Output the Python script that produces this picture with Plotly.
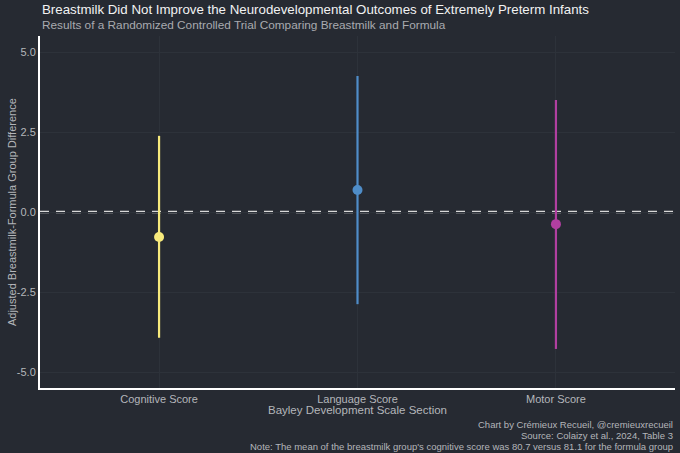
import plotly.graph_objects as go

# Data
sections = ["Cognitive Score", "Language Score", "Motor Score"]
estimates = [-0.78, 0.69, -0.38]
ci_lower = [-3.93, -2.88, -4.28]
ci_upper = [2.38, 4.25, 3.5]
colors = ["#f7ea7c", "#4f8dc8", "#b03fa0"]
y_ticks = [-5.0, -2.5, 0.0, 2.5, 5.0]
caption_lines = [
    "Chart by Crémieux Recueil, @cremieuxrecueil",
    "Source: Colaizy et al., 2024, Table 3",
    "Note: The mean of the breastmilk group's cognitive score was 80.7 versus 81.1 for the formula group",
]

BG = "#262a32"
GRID = "#2d323a"
TEXT = "#b4b6ba"
FONT = "Liberation Sans"

fig = go.Figure()

for i, name in enumerate(sections):
    fig.add_trace(go.Scatter(
        x=[name],
        y=[estimates[i]],
        mode="markers",
        marker=dict(color=colors[i], size=10),
        error_y=dict(
            type="data",
            symmetric=False,
            array=[ci_upper[i] - estimates[i]],
            arrayminus=[estimates[i] - ci_lower[i]],
            color=colors[i],
            thickness=2.2,
            width=0,
        ),
        showlegend=False,
    ))

# Zero reference line
fig.add_hline(y=0, line=dict(color="#d8d8d8", width=2.5, dash="9px,7px"), layer="below")


def text_note(text, x, y, xanchor, yanchor, size, color, align="left", angle=0):
    return dict(text=text, xref="paper", yref="paper", x=x, y=y,
                xanchor=xanchor, yanchor=yanchor, align=align, textangle=angle,
                showarrow=False, font=dict(size=size, color=color, family=FONT))


notes = [
    text_note("Breastmilk Did Not Improve the Neurodevelopmental Outcomes of Extremely Preterm Infants",
              0.0, 1.074, "left", "middle", 13.3, "#f2f2f2"),
    text_note("Results of a Randomized Controlled Trial Comparing Breastmilk and Formula",
              0.0, 1.031, "left", "middle", 11.8, "#a9abb0"),
    text_note("Bayley Development Scale Section", 0.5, -0.0625, "center", "middle", 11.5, TEXT),
    text_note("Adjusted Breastmilk-Formula Group Difference", -0.044, 0.5, "center", "middle",
              11, TEXT, angle=-90),
]
# caption lines, one per annotation to keep the tight line spacing
for k, line in enumerate(caption_lines):
    notes.append(text_note(line, 1.0, -0.1023 - 0.03125 * k, "right", "middle", 9.5, TEXT))

fig.update_layout(
    width=680,
    height=453,
    paper_bgcolor=BG,
    plot_bgcolor=BG,
    font=dict(family=FONT, color=TEXT, size=11),
    margin=dict(l=40, r=5, t=36, b=65),
    xaxis=dict(
        type="category",
        range=[-0.6, 2.6],
        showline=True,
        linecolor="#ffffff",
        linewidth=2,
        showgrid=True,
        gridcolor=GRID,
        gridwidth=1,
        ticks="",
        tickfont=dict(size=11, color=TEXT),
        zeroline=False,
    ),
    yaxis=dict(
        range=[-5.5, 5.5],
        tickvals=y_ticks,
        ticktext=[f"{v:.1f}" for v in y_ticks],
        showline=True,
        linecolor="#ffffff",
        linewidth=2,
        showgrid=True,
        gridcolor=GRID,
        gridwidth=1,
        zeroline=False,
        ticks="",
        tickfont=dict(size=11, color=TEXT),
    ),
    annotations=notes,
)

fig.write_html("out.html", config={"displayModeBar": False},
               post_script="document.body.style.margin='0';")
